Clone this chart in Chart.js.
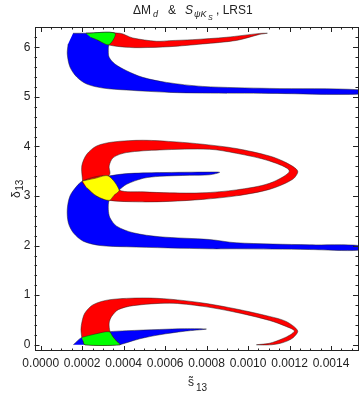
<!DOCTYPE html>
<html lang="en">
<head>
<meta charset="UTF-8">
<title>dMd and SpsiKs, LRS1</title>
<script src="https://cdn.jsdelivr.net/npm/chart.js@4.4.1/dist/chart.umd.min.js"></script>
<style>
  html, body { margin: 0; padding: 0; background: #fff; }
  #wrap { width: 360px; height: 394px; }
</style>
</head>
<body>
<div id="wrap"><canvas id="regionChart" width="360" height="394"></canvas></div>
<script>
// tick labels
const sTicks = [0, 0.0002, 0.0004, 0.0006, 0.0008, 0.0010, 0.0012, 0.0014];
const dTicks = [0, 1, 2, 3, 4, 5, 6];

// region outlines: s13 values and delta13 values (rad)
// band near 2pi
const blueTopS = [0.000156,0.000218,0.000358,0.000329,0.000326,0.000330,0.000358,0.000414,0.000492,0.000606,0.000781,0.001103,0.001536,0.001536,0.001103,0.000781,0.000622,0.000414,0.000300,0.000222,0.000174,0.000141,0.000128,0.000132];
const blueTopD = [6.283,6.283,6.283,6.053,5.931,5.798,5.662,5.527,5.393,5.292,5.211,5.171,5.143,5.056,5.070,5.076,5.090,5.137,5.177,5.258,5.399,5.602,5.865,6.067];
const redTopS = [0.000218,0.000382,0.000444,0.000558,0.000622,0.000733,0.000896,0.001055,0.001093,0.001055,0.000944,0.000781,0.000622,0.000478,0.000414,0.000329,0.000270];
const redTopD = [6.283,6.283,6.188,6.121,6.134,6.154,6.202,6.279,6.283,6.259,6.138,6.067,6.012,5.992,6.000,6.047,6.154];
const greenTopS = [0.000218,0.000358,0.000329,0.000270,0.000242];
const greenTopD = [6.283,6.283,6.053,6.154,6.198];

// band near pi
const blueMidS = [0.000326,0.000414,0.000574,0.000814,0.000863,0.000814,0.000718,0.000574,0.000494,0.000414,0.000378,0.000353,0.000330,0.000326,0.000334,0.000366,0.000446,0.000574,0.000814,0.000943,0.001295,0.001536,0.001536,0.001295,0.000943,0.000814,0.000414,0.000286,0.000205,0.000157,0.000133,0.000128,0.000141,0.000174,0.000202,0.000262];
const blueMidD = [3.403,3.452,3.472,3.484,3.478,3.428,3.418,3.397,3.357,3.236,3.120,3.013,2.912,2.730,2.562,2.392,2.259,2.178,2.123,2.057,2.016,2.002,1.907,1.921,1.935,1.935,1.976,2.002,2.089,2.259,2.461,2.730,2.999,3.201,3.302,3.357];
// outer edge, then the hole walked the other way
const redMidS = [0.000202,0.000198,0.000222,0.000270,0.000350,0.000494,0.000654,0.000781,0.000943,0.001103,0.001183,0.001239,0.001215,0.001103,0.000943,0.000781,0.000622,0.000478,0.000330,0.000270,0.000222,0.000202,
  0.000326,0.000378,0.000494,0.000622,0.000781,0.000943,0.001103,0.001199,0.001103,0.000943,0.000814,0.000574,0.000414,0.000350,0.000330,0.000334,0.000326,0.000202];
const redMidD = [3.302,3.606,3.842,4.010,4.091,4.125,4.091,4.045,3.958,3.808,3.674,3.505,3.337,3.134,3.003,2.932,2.892,2.882,2.912,2.999,3.169,3.302,
  3.403,3.120,3.084,3.064,3.064,3.124,3.256,3.505,3.707,3.862,3.943,3.929,3.877,3.776,3.606,3.458,3.403,3.302];
const yellowMidS = [0.000202,0.000262,0.000326,0.000378,0.000353,0.000330,0.000270,0.000222];
const yellowMidD = [3.302,3.357,3.403,3.120,3.013,2.912,2.999,3.169];

// band near 0
const blueLowS = [0.000157,0.000198,0.000262,0.000330,0.000414,0.000574,0.000694,0.000799,0.000694,0.000574,0.000478,0.000406,0.000382];
const blueLowD = [0,0.148,0.216,0.263,0.283,0.309,0.324,0.317,0.273,0.202,0.121,0.030,0];
const redLowS = [0.000198,0.000194,0.000199,0.000213,0.000253,0.000334,0.000494,0.000622,0.000782,0.000943,0.001103,0.001183,0.001239,0.001215,0.001165,0.001113,0.001040,0.001103,0.001165,0.001204,0.001223,0.001183,0.001103,0.000943,0.000782,0.000622,0.000446,0.000374,0.000342,0.000330,0.000334,0.000348,0.000366,0.000382,0.000213,0.000204];
const redLowD = [0.148,0.303,0.465,0.641,0.809,0.910,0.944,0.920,0.843,0.722,0.572,0.471,0.283,0.135,0.040,0,0,0.030,0.121,0.202,0.283,0.370,0.491,0.653,0.775,0.839,0.789,0.708,0.572,0.439,0.269,0.162,0.071,0,0,0.081];
const greenLowS = [0.000198,0.000262,0.000330,0.000348,0.000366,0.000382,0.000213,0.000204];
const greenLowD = [0.148,0.216,0.263,0.162,0.071,0,0,0.081];

const FONT = '"Liberation Sans", Arial, sans-serif';

function region(label, s, d, color, order) {
    return {
        label: label,
        data: s.map((v, i) => ({ x: v, y: d[i] })),
        showLine: true,
        fill: 'shape',
        backgroundColor: color,
        borderColor: 'rgba(30,30,30,0.6)',
        borderWidth: 0.8,
        pointRadius: 0,
        tension: 0.3,
        order: order
    };
}

// frame, inward ticks, title and axis labels
const framePlugin = {
    id: 'framePlugin',
    afterDatasetsDraw(chart) {
        const { ctx, chartArea: a, scales: { x, y } } = chart;
        ctx.save();
        ctx.strokeStyle = '#222';
        ctx.lineWidth = 1;
        ctx.strokeRect(Math.round(a.left) + 0.5, Math.round(a.top) + 0.5,
            Math.round(a.right - a.left) - 1, Math.round(a.bottom - a.top) - 1);
        ctx.beginPath();
        for (let i = 0; i <= 30; i++) {
            const px = Math.round(x.getPixelForValue(i * 0.00005)) + 0.5;
            const len = i % 4 === 0 ? 5 : 2.5;
            ctx.moveTo(px, a.bottom); ctx.lineTo(px, a.bottom - len);
            ctx.moveTo(px, a.top); ctx.lineTo(px, a.top + len);
        }
        for (let i = 0; i <= 31; i++) {
            const py = Math.round(y.getPixelForValue(i * 0.2)) + 0.5;
            const len = i % 5 === 0 ? 5 : 2.5;
            ctx.moveTo(a.left, py); ctx.lineTo(a.left + len, py);
            ctx.moveTo(a.right, py); ctx.lineTo(a.right - len, py);
        }
        ctx.stroke();
        ctx.restore();
    },
    afterDraw(chart) {
        const ctx = chart.ctx;
        ctx.save();
        ctx.fillStyle = '#222';
        ctx.textBaseline = 'alphabetic';
        ctx.textAlign = 'left';

        // title: ΔM_d & S_ψK_S , LRS1
        ctx.font = '12px ' + FONT;
        ctx.fillText('\u0394M', 133, 14);
        ctx.font = 'italic 9px ' + FONT;
        ctx.fillText('d', 153, 17);
        ctx.font = '12px ' + FONT;
        ctx.fillText('&', 168, 14);
        ctx.font = 'italic 12px ' + FONT;
        ctx.fillText('S', 185, 14);
        ctx.font = 'italic 9px ' + FONT;
        ctx.fillText('\u03C8K', 194, 17);
        ctx.font = 'italic 7px ' + FONT;
        ctx.fillText('S', 208, 19.5);
        ctx.font = '12px ' + FONT;
        ctx.fillText(', LRS1', 216, 14);

        // x label: s tilde 13
        ctx.font = '12px ' + FONT;
        ctx.textAlign = 'center';
        ctx.fillText('s', 191, 386);
        ctx.fillText('\u02DC', 191, 386);
        ctx.textAlign = 'left';
        ctx.font = '10px ' + FONT;
        ctx.fillText('13', 196, 391);

        // y label: delta 13
        ctx.translate(20, 198);
        ctx.rotate(-Math.PI / 2);
        ctx.font = '12px ' + FONT;
        ctx.fillText('\u03B4', 0, 0);
        const w = ctx.measureText('\u03B4').width;
        ctx.font = '10px ' + FONT;
        ctx.fillText('13', w + 0.5, 2.5);
        ctx.restore();
    }
};

new Chart(document.getElementById('regionChart'), {
    type: 'scatter',
    data: {
        datasets: [
            region('overlap', greenTopS, greenTopD, '#00ff00', 0),
            region('overlap', yellowMidS, yellowMidD, '#ffff00', 0),
            region('overlap', greenLowS, greenLowD, '#00ff00', 0),
            region('S psi Ks', redTopS, redTopD, '#ff0000', 1),
            region('S psi Ks', redMidS, redMidD, '#ff0000', 1),
            region('S psi Ks', redLowS, redLowD, '#ff0000', 1),
            region('dMd', blueTopS, blueTopD, '#0000ff', 2),
            region('dMd', blueMidS, blueMidD, '#0000ff', 2),
            region('dMd', blueLowS, blueLowD, '#0000ff', 2)
        ]
    },
    options: {
        responsive: false,
        animation: false,
        devicePixelRatio: 1,
        layout: { padding: { left: 0, right: 2, top: 27, bottom: 0 } },
        plugins: {
            legend: { display: false },
            tooltip: { enabled: false },
            title: { display: false }
        },
        scales: {
            x: {
                type: 'linear',
                min: -0.00003,
                max: 0.00153,
                afterBuildTicks: sc => { sc.ticks = sTicks.map(v => ({ value: v })); },
                afterFit: sc => { sc.height = 43; },
                grid: { display: false, drawTicks: false },
                border: { display: false },
                ticks: {
                    autoSkip: false,
                    maxRotation: 0,
                    padding: 5,
                    color: '#222',
                    font: { family: FONT, size: 12 },
                    callback: v => Number(v).toFixed(4)
                }
            },
            y: {
                type: 'linear',
                min: -0.1257,
                max: 6.409,
                afterBuildTicks: sc => { sc.ticks = dTicks.map(v => ({ value: v })); },
                afterFit: sc => { sc.width = 34.5; },
                grid: { display: false, drawTicks: false },
                border: { display: false },
                ticks: {
                    padding: 4,
                    color: '#222',
                    font: { family: FONT, size: 12 },
                    callback: v => String(v)
                }
            }
        }
    },
    plugins: [framePlugin]
});
</script>
</body>
</html>
